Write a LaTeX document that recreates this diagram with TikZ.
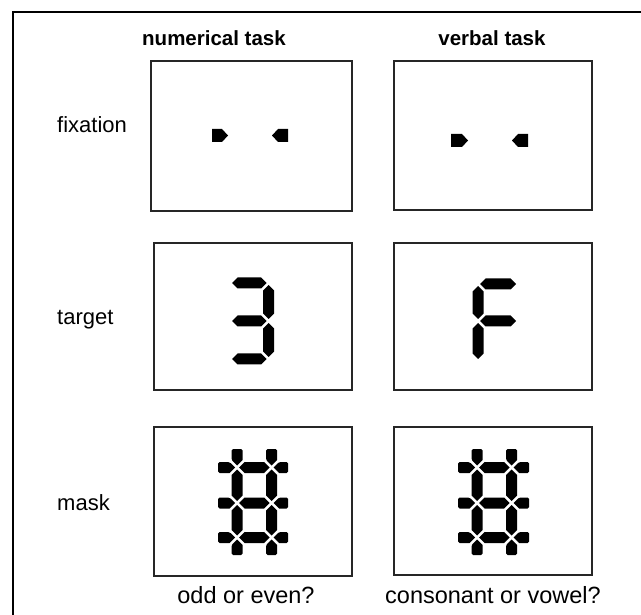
\documentclass[tikz,border=0pt]{standalone}
\usepackage{fontspec}
\setmainfont{Liberation Sans}
\newcommand\hsegm[3]{% x1 x2 y
  \fill[seg] (#1,#3) -- ({#1+5.5},{#3-5.5}) -- ({#2-5.5},{#3-5.5}) -- (#2,#3) -- ({#2-5.5},{#3+5.5}) -- ({#1+5.5},{#3+5.5}) -- cycle;}
\newcommand\vsegm[3]{% x y1 y2
  \fill[seg] (#1,#2) -- ({#1+5.5},{#2+5.5}) -- ({#1+5.5},{#3-5.5}) -- (#1,#3) -- ({#1-5.5},{#3-5.5}) -- ({#1-5.5},{#2+5.5}) -- cycle;}
\newcommand\hstub[4]{% xout xin y dir
  \fill[seg,rounded corners=1.5pt] (#1,{#3-5.5}) -- ({#2-(#4)*5.5},{#3-5.5}) [sharp corners] -- (#2,#3) -- ({#2-(#4)*5.5},{#3+5.5}) [rounded corners=1.5pt] -- (#1,{#3+5.5}) -- cycle;}
\newcommand\vstub[4]{% yout yin x dir
  \fill[seg,rounded corners=1.5pt] ({#3-5.5},#1) -- ({#3-5.5},{#2-(#4)*5.5}) [sharp corners] -- (#3,#2) -- ({#3+5.5},{#2-(#4)*5.5}) [rounded corners=1.5pt] -- ({#3+5.5},#1) -- cycle;}
\newcommand\maskglyph[4]{% xL xR xoutL xoutR
  \hsegm{#1+2}{#2-2}{467.5}
  \hsegm{#1+2}{#2-2}{503}
  \hsegm{#1+2}{#2-2}{537.5}
  \vsegm{#1}{469.5}{501}
  \vsegm{#1}{505}{535.5}
  \vsegm{#2}{469.5}{501}
  \vsegm{#2}{505}{535.5}
  \vstub{449}{465.5}{#1}{1}
  \vstub{449}{465.5}{#2}{1}
  \vstub{555}{539.5}{#1}{-1}
  \vstub{555}{539.5}{#2}{-1}
  \hstub{#3}{#1-2}{467.5}{1}
  \hstub{#3}{#1-2}{503}{1}
  \hstub{#3}{#1-2}{537.5}{1}
  \hstub{#4}{#2+2}{467.5}{-1}
  \hstub{#4}{#2+2}{503}{-1}
  \hstub{#4}{#2+2}{537.5}{-1}}
\begin{document}
\begin{tikzpicture}[x=1pt,y=-1pt,
  panel/.style={draw=black!85, line width=1.1pt, inner sep=0pt, outer sep=0pt, anchor=north west},
  seg/.style={fill=black, draw=none},
  rowlabel/.style={anchor=base west, font=\fontsize{22}{25}\selectfont, inner sep=0pt},
  head/.style={anchor=base, font=\bfseries\fontsize{20.5}{23}\selectfont, inner sep=0pt},
  question/.style={anchor=base, font=\fontsize{23.5}{26}\selectfont, inner sep=0pt}]
\useasboundingbox (0,0) rectangle (641,615);
\fill[white] (0,0) rectangle (641,615);
% outer frame
\draw[line width=2.3pt] (641,11.8) -- (13.2,11.8) -- (13.2,615);
% headers
\node[head] (hnum) at (214,46) {numerical task};
\node[head] (hverb) at (492,46) {verbal task};
% row labels
\node[rowlabel] (lfix) at (57,133) {fixation};
\node[rowlabel] (ltgt) at (57,325) {target};
\node[rowlabel] (lmask) at (57,510) {mask};
% panels
\node[panel, minimum width=201pt, minimum height=150pt] (numfix) at (151,61) {};
\node[panel, minimum width=198pt, minimum height=149pt] (verfix) at (394,61) {};
\node[panel, minimum width=198pt, minimum height=147pt] (numtgt) at (154,243) {};
\node[panel, minimum width=198pt, minimum height=147pt] (vertgt) at (394,243) {};
\node[panel, minimum width=198pt, minimum height=149pt] (nummask) at (154,427) {};
\node[panel, minimum width=198pt, minimum height=148pt] (vermask) at (394,427) {};
% fixation marks
\fill[seg] (212,129) -- (222,129) -- (228,135.5) -- (222,142) -- (212,142) -- cycle;
\fill[seg] (288,129) -- (278,129) -- (272,135.5) -- (278,142) -- (288,142) -- cycle;
\fill[seg] (451,134) -- (462,134) -- (468,140.5) -- (462,147) -- (451,147) -- cycle;
\fill[seg] (528,134) -- (518,134) -- (512,140.5) -- (518,147) -- (528,147) -- cycle;
% digit 3
\hsegm{232}{266.5}{283}
\hsegm{232}{266.5}{321}
\hsegm{232}{266.5}{359}
\vsegm{268.5}{285}{319}
\vsegm{268.5}{323}{357}
% letter F
\hsegm{480}{516}{284}
\hsegm{480}{516}{321}
\vsegm{478}{286}{319}
\vsegm{478}{323}{359}
% masks
\maskglyph{237}{271.5}{218}{288}
\maskglyph{477}{511.5}{458}{529}
% questions
\node[question] (qnum) at (246,603) {odd or even?};
\node[question] (qverb) at (493,603) {consonant or vowel?};
\end{tikzpicture}
\end{document}
